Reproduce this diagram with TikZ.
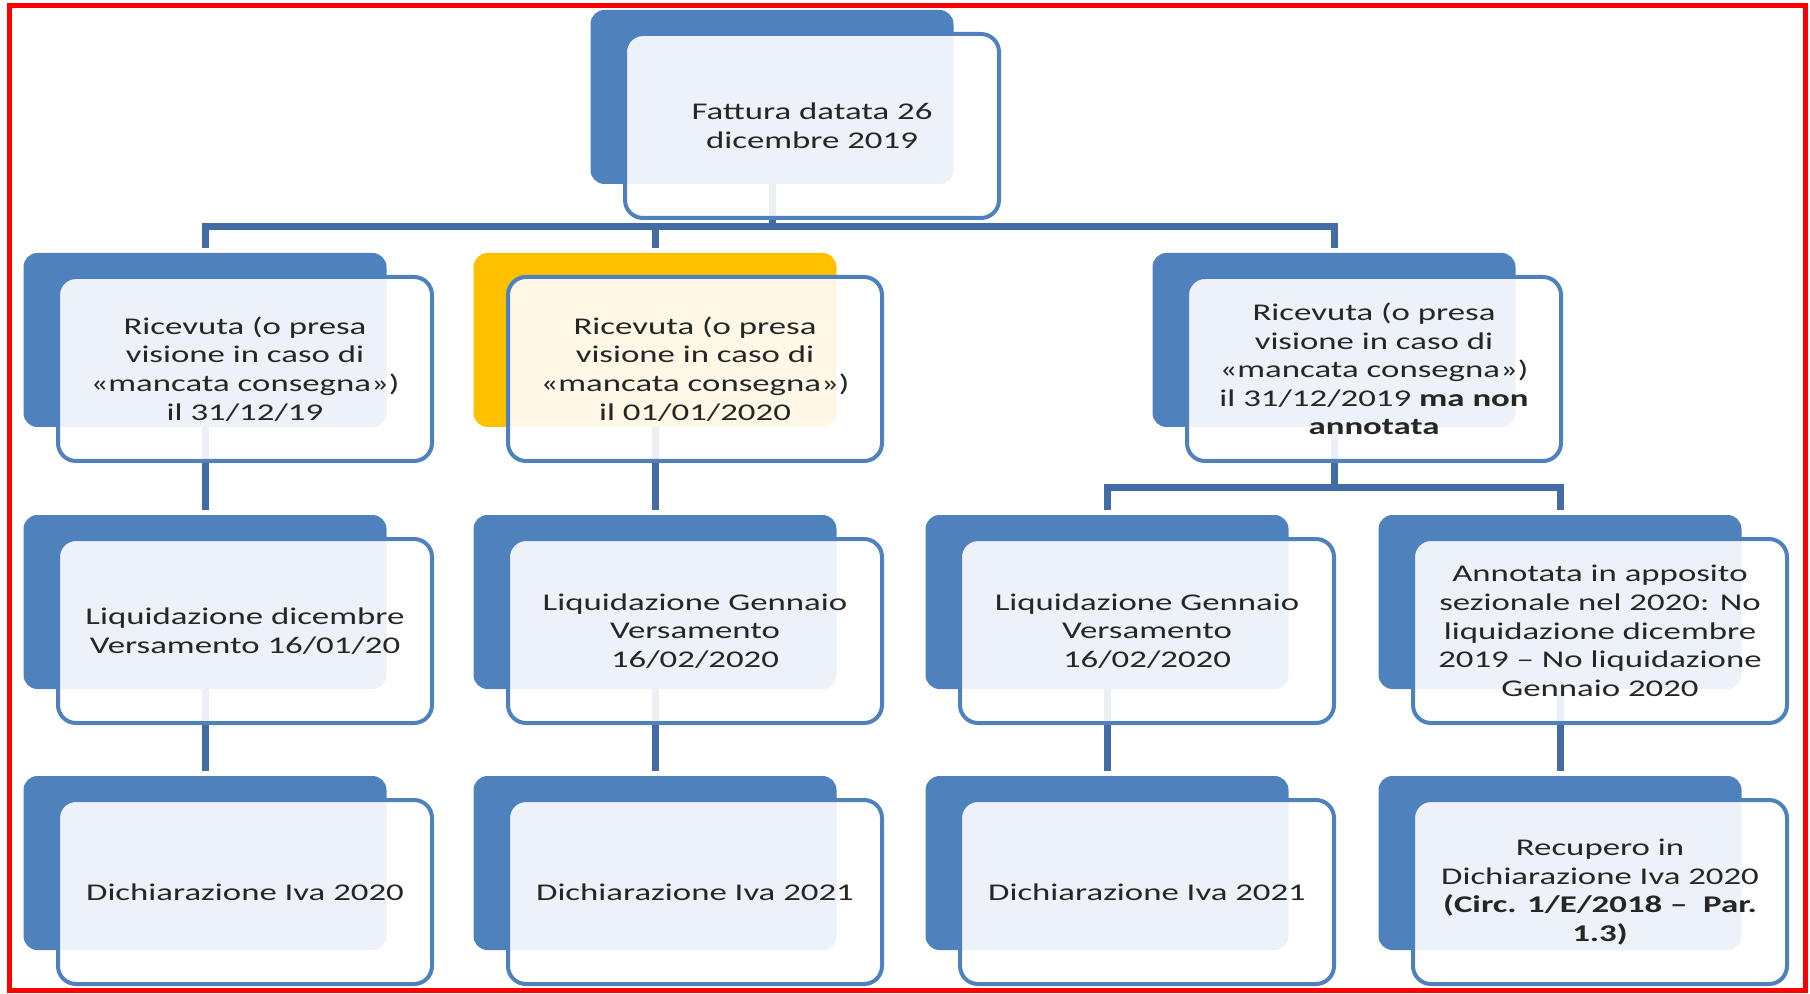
\documentclass[tikz,border=0pt]{standalone}
\usepackage{fontspec}
\setmainfont[FakeStretch=1.45]{Carlito}
\definecolor{Accent}{RGB}{79, 129, 189}
\definecolor{LinkBlue}{RGB}{66, 108, 163}
\definecolor{Gold}{RGB}{255, 192, 0}
\definecolor{FrameRed}{RGB}{255, 0, 0}
\usepackage{tikz}
\usetikzlibrary{positioning}

\begin{document}
\begin{tikzpicture}[x=0.5pt, y=-0.5pt,
        back/.style={rectangle, rounded corners=7pt, fill=Accent, minimum width=181.5pt, minimum height=87pt, inner sep=0pt},
        front/.style={rectangle, rounded corners=9pt, draw=Accent, line width=2pt, fill=white, fill opacity=0.9, text opacity=1, minimum width=187pt, minimum height=92pt, inner sep=2pt, align=center, text=black!85, font=\fontsize{12}{14.3}\selectfont},
        link/.style={draw=LinkBlue, line width=3.5pt, shorten >=2.5pt}
    ]
        \useasboundingbox (0,0) rectangle (1810,994);
        \draw[FrameRed, line width=2.5pt] (9,6) rectangle (1805,990);

        % back panels
        \node[back] (bk-fattura) at (772,97) {};
        \node[back] (bk-ric1) at (205,340) {};
        \node[back, fill=Gold] (bk-ric2) at (655,340) {};
        \node[back] (bk-ric3) at (1334,340) {};
        \node[back] (bk-liq1) at (205,602) {};
        \node[back] (bk-liq2) at (655,602) {};
        \node[back] (bk-liq3) at (1107,602) {};
        \node[back] (bk-annot) at (1560,602) {};
        \node[back] (bk-dich1) at (205,863) {};
        \node[back] (bk-dich2) at (655,863) {};
        \node[back] (bk-dich3) at (1107,863) {};
        \node[back] (bk-recup) at (1560,863) {};

        % connectors
        \foreach \c in {ric1, ric2, ric3}
            \draw[link] (bk-fattura.south) -- ++(0,42) -| (bk-\c.north);
        \draw[link] (bk-ric1.south) -- (bk-liq1.north);
        \draw[link] (bk-ric2.south) -- (bk-liq2.north);
        \foreach \c in {liq3, annot}
            \draw[link] (bk-ric3.south) -- ++(0,60) -| (bk-\c.north);
        \draw[link] (bk-liq1.south) -- (bk-dich1.north);
        \draw[link] (bk-liq2.south) -- (bk-dich2.north);
        \draw[link] (bk-liq3.south) -- (bk-dich3.north);
        \draw[link] (bk-annot.south) -- (bk-recup.north);

        % front panels
        \node[front] (fattura) at ([shift={(40,29)}]bk-fattura) {Fattura datata 26\\dicembre 2019};
        \node[front] (ric1) at ([shift={(40,29)}]bk-ric1) {Ricevuta (o presa\\visione in caso di\\«mancata consegna»)\\il 31/12/19};
        \node[front] (ric2) at ([shift={(40,29)}]bk-ric2) {Ricevuta (o presa\\visione in caso di\\«mancata consegna»)\\il 01/01/2020};
        \node[front] (ric3) at ([shift={(40,29)}]bk-ric3) {Ricevuta (o presa\\visione in caso di\\«mancata consegna»)\\il 31/12/2019 \textbf{ma non}\\\textbf{annotata}};
        \node[front] (liq1) at ([shift={(40,29)}]bk-liq1) {Liquidazione dicembre\\Versamento 16/01/20};
        \node[front] (liq2) at ([shift={(40,29)}]bk-liq2) {Liquidazione Gennaio\\Versamento\\16/02/2020};
        \node[front] (liq3) at ([shift={(40,29)}]bk-liq3) {Liquidazione Gennaio\\Versamento\\16/02/2020};
        \node[front] (annot) at ([shift={(40,29)}]bk-annot) {Annotata in apposito\\sezionale nel 2020: No\\liquidazione dicembre\\2019 – No liquidazione\\Gennaio 2020};
        \node[front] (dich1) at ([shift={(40,29)}]bk-dich1) {Dichiarazione Iva 2020};
        \node[front] (dich2) at ([shift={(40,29)}]bk-dich2) {Dichiarazione Iva 2021};
        \node[front] (dich3) at ([shift={(40,29)}]bk-dich3) {Dichiarazione Iva 2021};
        \node[front] (recup) at ([shift={(40,29)}]bk-recup) {Recupero in\\Dichiarazione Iva 2020\\\textbf{(Circ. 1/E/2018 –\ \ Par.}\\\textbf{1.3)}};
    \end{tikzpicture}
\end{document}
